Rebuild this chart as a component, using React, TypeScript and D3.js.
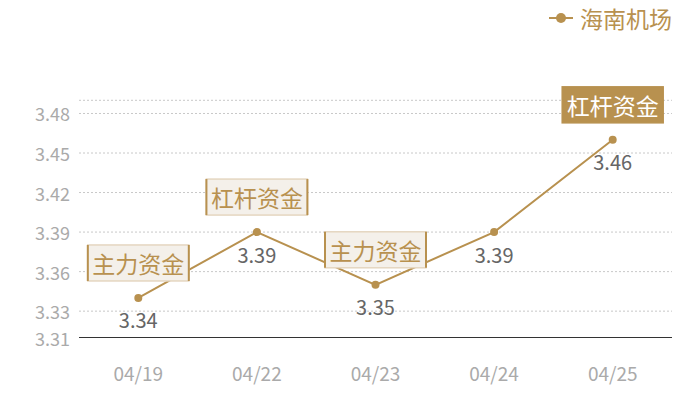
import React from "react";
import * as d3 from "d3";

const categories = ["04/19", "04/22", "04/23", "04/24", "04/25"];
const values = [3.34, 3.39, 3.35, 3.39, 3.46];
const yTicks = [3.31, 3.33, 3.36, 3.39, 3.42, 3.45, 3.48];
const annotations = [
  { index: 0, text: "主力资金", dark: false },
  { index: 1, text: "杠杆资金", dark: false },
  { index: 2, text: "主力资金", dark: false },
  { index: 4, text: "杠杆资金", dark: true },
];
const seriesName = "海南机场";

const W = 700;
const H = 400;
const left = 79;
const right = 672;
const top = 100.3;
const bottom = 337.5;
const GOLD = "#b8914f";
const FONT = "'Noto Sans CJK SC', 'Noto Sans', sans-serif";

export default function App() {
  const x = d3.scalePoint<string>().domain(categories).range([left, right]).padding(0.5);
  const y = d3.scaleLinear().domain([3.31, 3.49]).range([bottom, top]);
  const line = d3
    .line<number>()
    .x((_, i) => x(categories[i]) as number)
    .y((d) => y(d));
  const gridVals = [...yTicks.slice(1), 3.49];

  return (
    <svg
      width={W}
      height={H}
      style={{ position: "absolute", left: 0, top: 0 }}
      fontFamily={FONT}
    >
      {gridVals.map((v) => (
        <line
          key={v}
          x1={left}
          x2={right}
          y1={y(v)}
          y2={y(v)}
          stroke="#c8c8c8"
          strokeDasharray="2,2"
          strokeWidth={1}
        />
      ))}
      <line x1={left} x2={right} y1={bottom} y2={bottom} stroke="#333" strokeWidth={1} />
      {yTicks.map((v) => (
        <text
          key={v}
          x={70}
          y={y(v)}
          textAnchor="end"
          dominantBaseline="central"
          fontSize={18}
          fill="#aaaaaa"
        >
          {v.toFixed(2)}
        </text>
      ))}
      {categories.map((c) => (
        <text
          key={c}
          x={x(c)}
          y={372}
          textAnchor="middle"
          dominantBaseline="central"
          fontSize={19}
          fill="#aaaaaa"
        >
          {c}
        </text>
      ))}
      <path d={line(values) || ""} fill="none" stroke={GOLD} strokeWidth={2} />
      {values.map((v, i) => (
        <circle key={i} cx={x(categories[i])} cy={y(v)} r={4} fill={GOLD} />
      ))}
      {values.map((v, i) => (
        <text
          key={"v" + i}
          x={x(categories[i])}
          y={y(v) + 22}
          textAnchor="middle"
          dominantBaseline="central"
          fontSize={20}
          fill="#666666"
        >
          {v.toFixed(2)}
        </text>
      ))}
      {annotations.map((a) => {
        const cx = x(categories[a.index]) as number;
        const cy = y(values[a.index]) - 35;
        const bw = 101;
        const bh = 36;
        const x0 = cx - bw / 2;
        const y0 = cy - bh / 2;
        return (
          <g key={"a" + a.index}>
            <rect
              x={x0}
              y={y0}
              width={bw}
              height={bh}
              fill={a.dark ? GOLD : "#f4f0ea"}
              stroke={a.dark ? GOLD : "#e5d6c0"}
              strokeWidth={1.5}
            />
            {!a.dark && (
              <>
                <line x1={x0} x2={x0} y1={y0} y2={y0 + bh} stroke={GOLD} strokeWidth={2} />
                <line x1={x0 + bw} x2={x0 + bw} y1={y0} y2={y0 + bh} stroke={GOLD} strokeWidth={2} />
              </>
            )}
            <text
              x={cx}
              y={cy}
              textAnchor="middle"
              dominantBaseline="central"
              fontSize={23}
              fill={a.dark ? "#ffffff" : GOLD}
            >
              {a.text}
            </text>
          </g>
        );
      })}
      <g>
        <line x1={549} x2={573} y1={18} y2={18} stroke={GOLD} strokeWidth={2} />
        <circle cx={561} cy={18} r={5} fill={GOLD} />
        <text x={580} y={18} dominantBaseline="central" fontSize={23} fill={GOLD}>
          {seriesName}
        </text>
      </g>
    </svg>
  );
}
